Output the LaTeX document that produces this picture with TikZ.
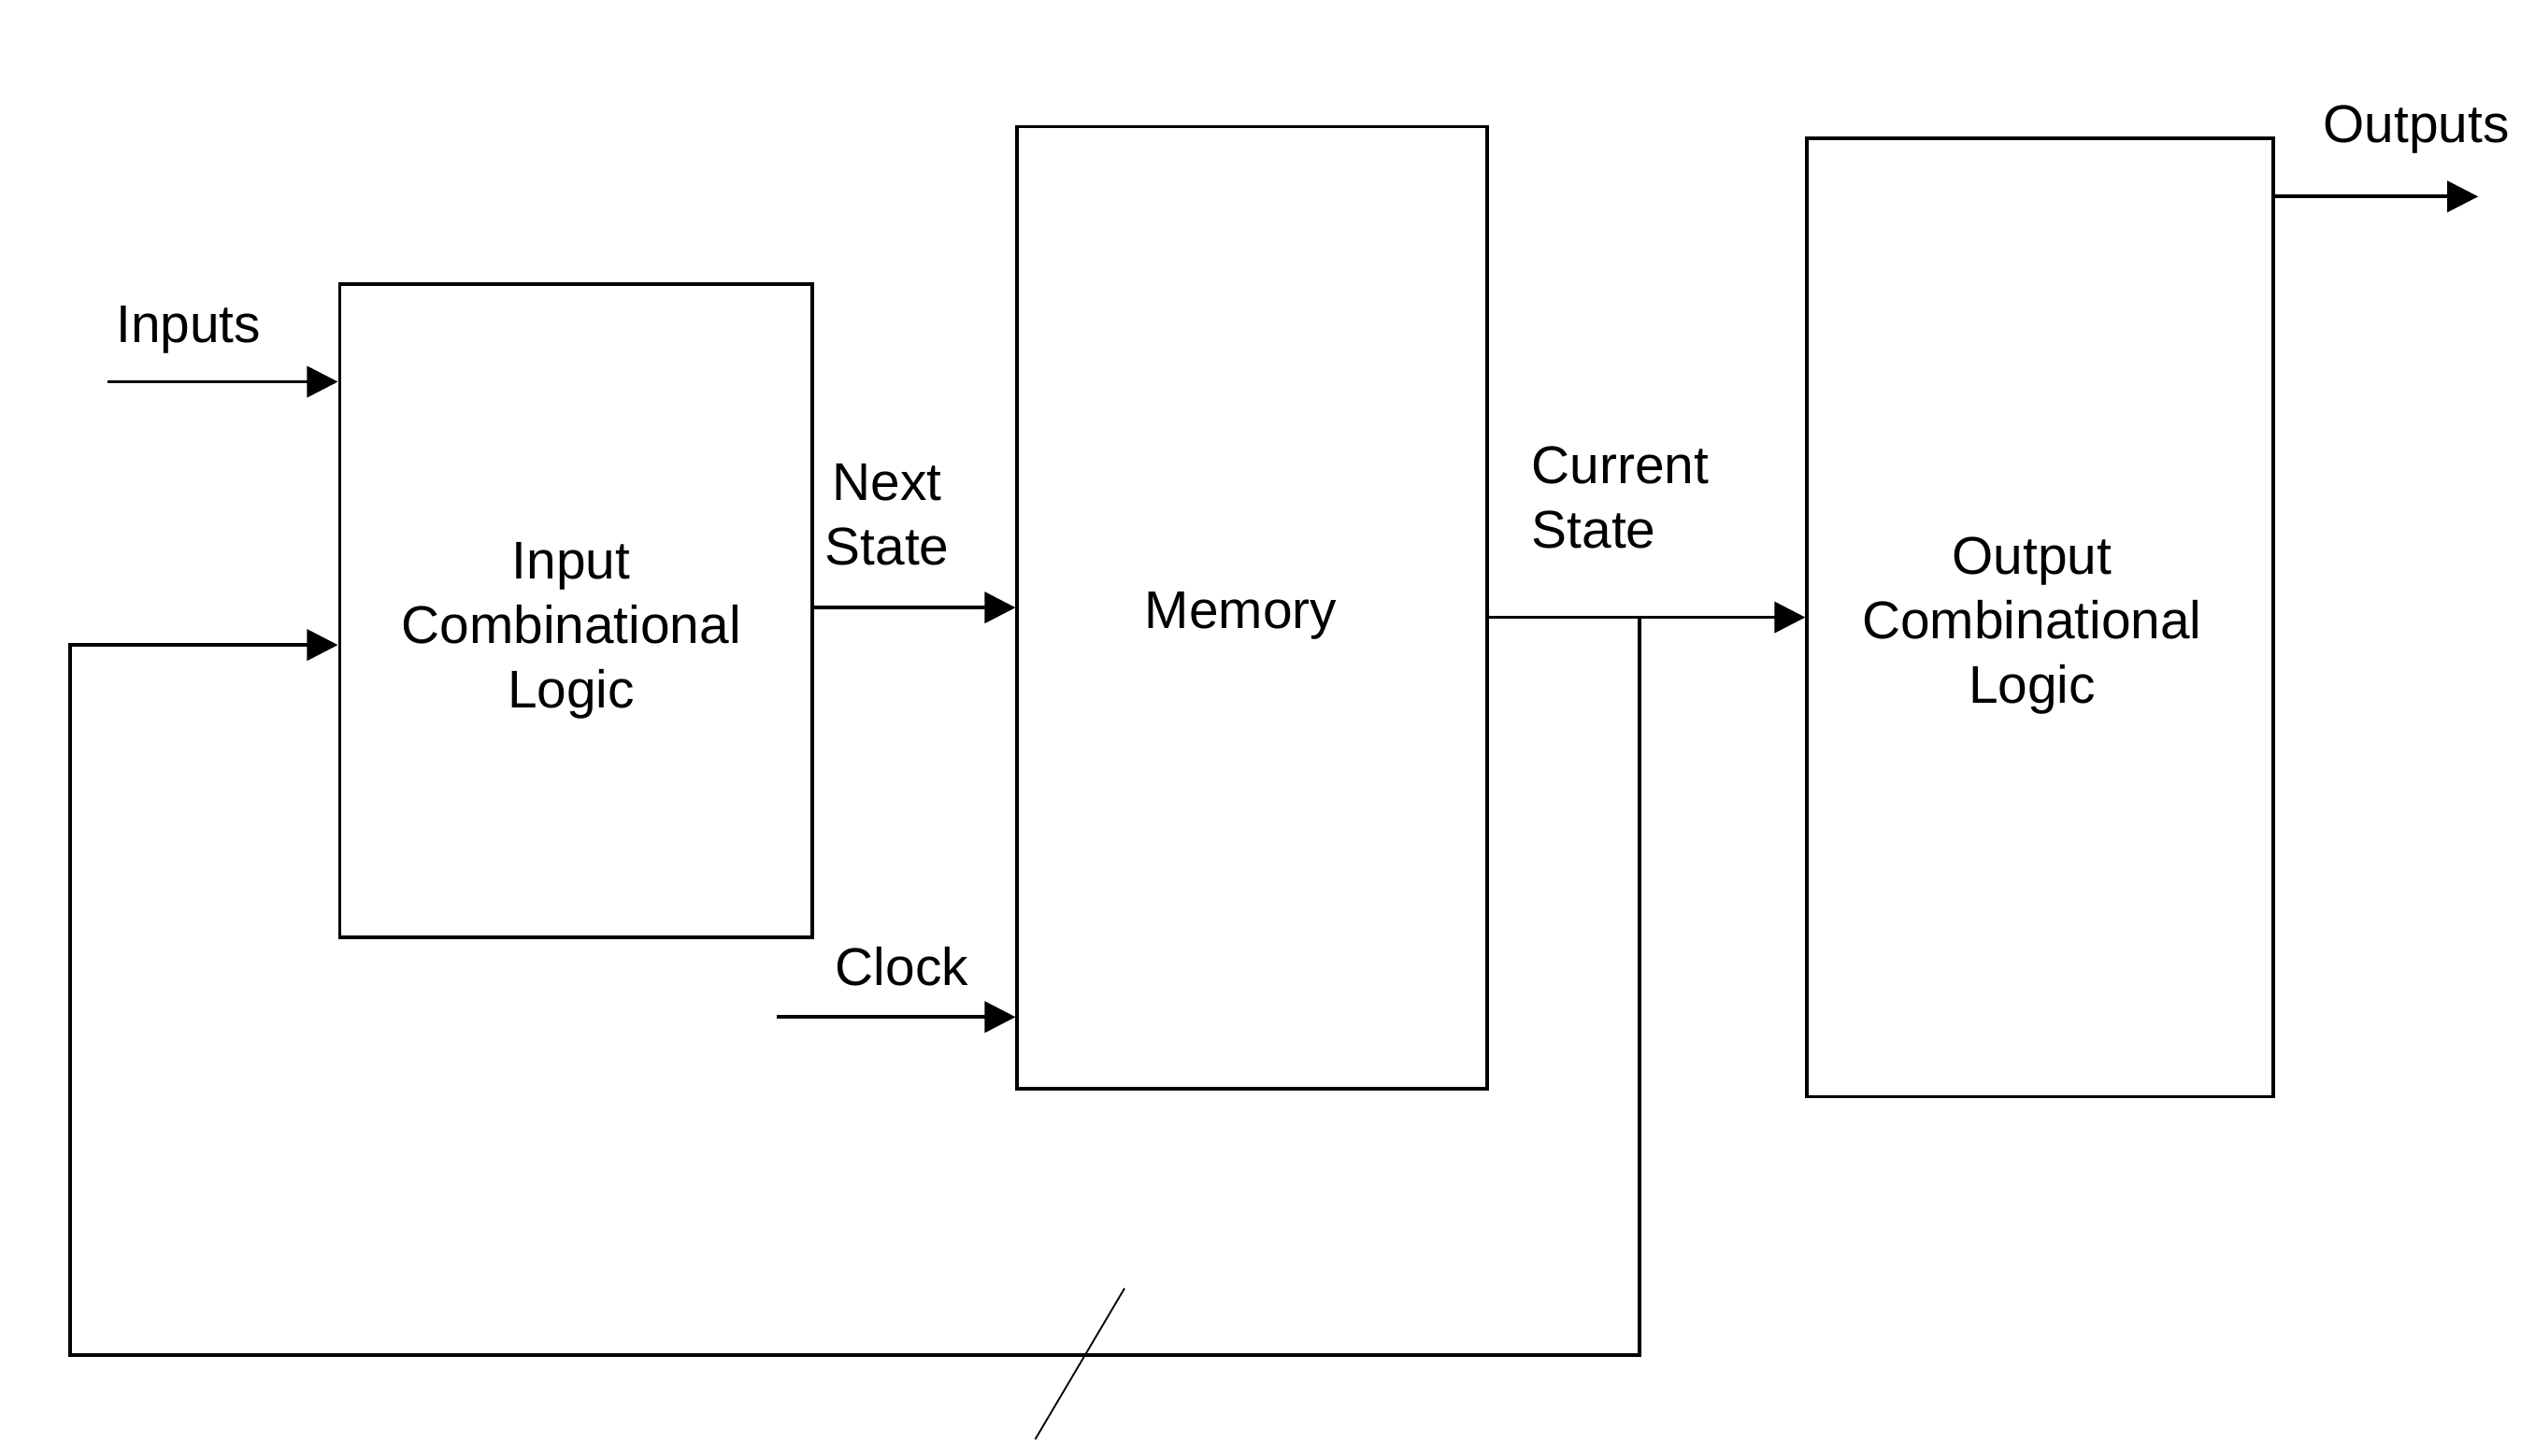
\documentclass[tikz,border=0pt]{standalone}
\usepackage{fontspec}
\setmainfont{Liberation Sans}
\usetikzlibrary{arrows.meta,calc}
\begin{document}
\begin{tikzpicture}[
    blk/.style={draw,line width=0.6pt,inner sep=0pt},
    sig/.style={line width=0.6pt,-{Triangle[length=0.19cm,width=0.19cm]}},
    lbl/.style={inner sep=0pt,align=left},
    font=\fontsize{9.3}{11.3}\selectfont]
    \useasboundingbox (0,0) rectangle (15.6,8.96);
    % blocks
    \node[blk,minimum width=2.91cm,minimum height=4.02cm] (inlogic) at (3.545,5.20) {};
    \node[blk,minimum width=2.89cm,minimum height=5.92cm] (memory) at (7.705,5.22) {};
    \node[blk,minimum width=2.87cm,minimum height=5.90cm] (outlogic) at (12.555,5.16) {};
    \node[lbl,align=center] (intxt) at ([xshift=-0.03cm,yshift=-0.12cm]inlogic.center) {Input\\Combinational\\Logic};
    \node[lbl] (memtxt) at ([xshift=-0.07cm,yshift=-0.05cm]memory.center) {Memory};
    \node[lbl,align=center] (outtxt) at ([xshift=-0.05cm,yshift=-0.05cm]outlogic.center) {Output\\Combinational\\Logic};
    % free ends
    \coordinate (insrc) at (0.66,6.61);
    \coordinate (clksrc) at (4.78,2.70);
    \coordinate (outdst) at (15.25,7.75);
    \coordinate (tap) at (10.09,5.16);
    \coordinate (fbr) at (10.09,0.62);
    \coordinate (fbl) at (0.43,0.62);
    \coordinate (fbin) at (0.43,4.99);
    % signals
    \draw[sig] (insrc) -- (insrc -| inlogic.west);
    \draw[sig] (inlogic.east |- 0,5.22) -- (memory.west |- 0,5.22);
    \draw[sig] (clksrc) -- (clksrc -| memory.west);
    \draw[sig] (memory.east |- outlogic.west) -- (outlogic.west);
    \draw[sig] (outlogic.east |- outdst) -- (outdst);
    \draw[sig] (tap) -- (fbr) -- (fbl) -- (fbin) -- (fbin -| inlogic.west);
    \draw[line width=0.3pt] (6.92,1.03) -- (6.37,0.10);
    % labels
    \node[lbl] (inputs) at (1.16,6.93) {Inputs};
    \node[lbl,align=center] (nextst) at (5.46,5.79) {Next\\State};
    \node[lbl] (clock) at (5.55,3.01) {Clock};
    \node[lbl,anchor=west] (curst) at (9.42,5.895) {Current\\State};
    \node[lbl] (outputs) at (14.87,8.16) {Outputs};
\end{tikzpicture}
\end{document}
